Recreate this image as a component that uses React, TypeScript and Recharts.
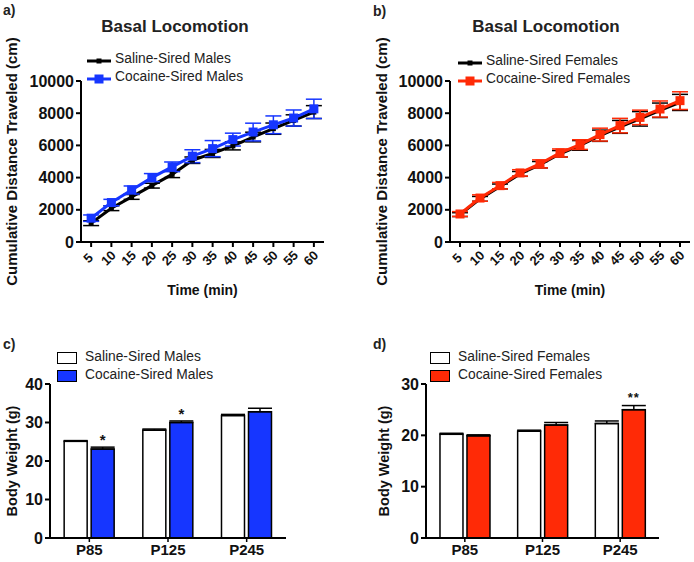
import React from 'react';
import { LineChart, Line, XAxis, YAxis, ErrorBar, BarChart, Bar, LabelList, Label } from 'recharts';

const FONT = '"Liberation Sans", Arial, Helvetica, sans-serif';
const BLUE = '#1636ff';
const RED = '#ff2a06';

// ---- Panel a/b: cumulative distance ----
const timePoints = [5, 10, 15, 20, 25, 30, 35, 40, 45, 50, 55, 60];
const timeTicks = [5, 10, 15, 20, 25, 30, 35, 40, 45, 50, 55, 60];
const distTicks = [0, 2000, 4000, 6000, 8000, 10000];

const salineMalesDist = [1170, 2100, 2800, 3500, 4200, 5080, 5500, 5970, 6520, 7040, 7550, 8070];
const salineMalesDistErr = [150, 150, 150, 150, 200, 200, 250, 250, 300, 350, 350, 400];
const cocaineMalesDist = [1480, 2450, 3230, 4000, 4670, 5330, 5800, 6360, 6830, 7280, 7700, 8270];
const cocaineMalesDistErr = [200, 200, 250, 250, 300, 400, 500, 400, 550, 550, 500, 600];

const salineFemalesDist = [1700, 2680, 3450, 4230, 4800, 5480, 6000, 6600, 7150, 7650, 8180, 8670];
const salineFemalesDistErr = [120, 150, 150, 150, 200, 200, 300, 350, 400, 450, 450, 500];
const cocaineFemalesDist = [1740, 2730, 3500, 4290, 4850, 5530, 6050, 6670, 7230, 7740, 8260, 8780];
const cocaineFemalesDistErr = [150, 200, 200, 200, 250, 250, 300, 400, 450, 450, 500, 550];

// ---- Panel c/d: body weight ----
const ages = ['P85', 'P125', 'P245'];
const maleWeightTicks = [0, 10, 20, 30, 40];
const femaleWeightTicks = [0, 10, 20, 30];

const salineMalesWeight = [25.1, 28.0, 31.8];
const salineMalesWeightErr = [0.2, 0.3, 0.3];
const cocaineMalesWeight = [23.1, 30.0, 32.8];
const cocaineMalesWeightErr = [0.5, 0.4, 0.9];
const malesSig = ['*', '*', ''];

const salineFemalesWeight = [20.2, 20.8, 22.3];
const salineFemalesWeightErr = [0.2, 0.2, 0.5];
const cocaineFemalesWeight = [19.9, 22.0, 25.0];
const cocaineFemalesWeightErr = [0.2, 0.5, 0.8];
const femalesSig = ['', '', '**'];

const buildDist = (s: number[], se: number[], c: number[], ce: number[]) =>
  timePoints.map((t, i) => ({ t, saline: s[i], salineErr: se[i], cocaine: c[i], cocaineErr: ce[i] }));

const buildWeight = (s: number[], se: number[], c: number[], ce: number[], sig: string[]) =>
  ages.map((a, i) => ({ age: a, saline: s[i], salineErr: [0, se[i]], cocaine: c[i], cocaineErr: [0, ce[i]], sig: sig[i], cErr: ce[i] }));

const malesDistData = buildDist(salineMalesDist, salineMalesDistErr, cocaineMalesDist, cocaineMalesDistErr);
const femalesDistData = buildDist(salineFemalesDist, salineFemalesDistErr, cocaineFemalesDist, cocaineFemalesDistErr);
const malesWeightData = buildWeight(salineMalesWeight, salineMalesWeightErr, cocaineMalesWeight, cocaineMalesWeightErr, malesSig);
const femalesWeightData = buildWeight(salineFemalesWeight, salineFemalesWeightErr, cocaineFemalesWeight, cocaineFemalesWeightErr, femalesSig);

const axisLine = { stroke: '#000', strokeWidth: 2 };
const tickLine = { stroke: '#000', strokeWidth: 2 };

const RotTick = (props: any) => {
  const { x, y, payload } = props;
  return (
    <g transform={`translate(${x - 3},${y + 9})`}>
      <text x={0} y={0} textAnchor="middle" dominantBaseline="central" transform="rotate(-45)"
        fontFamily={FONT} fontWeight="bold" fontSize={13} fill="#111">{payload.value}</text>
    </g>
  );
};

const YLabel = (text: string, dx: number, fs: number) => (props: any) => {
  const vb = props.viewBox;
  const cx = vb.x + dx;
  const cy = vb.y + vb.height / 2;
  return (
    <text x={cx} y={cy} transform={`rotate(-90 ${cx} ${cy})`} textAnchor="middle" dominantBaseline="central"
      fontFamily={FONT} fontWeight="bold" fontSize={fs} fill="#111">{text}</text>
  );
};

const XLabel = (text: string, dy: number) => (props: any) => {
  const vb = props.viewBox;
  return (
    <text x={vb.x + vb.width / 2} y={vb.y + dy} textAnchor="middle" dominantBaseline="central"
      fontFamily={FONT} fontWeight="bold" fontSize={14} fill="#111">{text}</text>
  );
};

const squareDot = (color: string, size: number) => (props: any) => {
  const { cx, cy, index } = props;
  if (cx == null || cy == null) return <g key={index} />;
  return <rect key={index} x={cx - size / 2} y={cy - size / 2} width={size} height={size} fill={color} />;
};

const txt = (extra: any = {}) => ({ fontFamily: FONT, color: '#222', position: 'absolute' as const, whiteSpace: 'nowrap' as const, ...extra });

function LinePanel(props: { left: number; data: any[]; color: string; yAxisW: number; width: number; right: number; labelDx: number; }) {
  const { left, data, color, yAxisW, width, right, labelDx } = props;
  return (
    <div style={{ position: 'absolute', left, top: 0 }}>
      <LineChart width={width} height={300} data={data} margin={{ top: 81, right, bottom: 18, left: 0 }}>
        <XAxis dataKey="t" type="number" domain={[2.5, 62.5]} ticks={timeTicks} interval={0}
          axisLine={axisLine} tickLine={tickLine} tickSize={5} height={40} tick={<RotTick />}>
          <Label content={XLabel('Time (min)', 48)} />
        </XAxis>
        <YAxis type="number" domain={[0, 10000]} ticks={distTicks} interval={0} width={yAxisW}
          axisLine={axisLine} tickLine={tickLine} tickSize={5}
          tick={{ fontFamily: FONT, fontWeight: 'bold', fontSize: 16, fill: '#111' }}>
          <Label content={YLabel('Cumulative Distance Traveled (cm)', labelDx, 15)} />
        </YAxis>
        <Line dataKey="saline" stroke="#000" strokeWidth={3} isAnimationActive={false}
          dot={squareDot('#000', 5)} activeDot={false}>
          <ErrorBar dataKey="salineErr" width={8} stroke="#000" strokeWidth={1.5} direction="y" />
        </Line>
        <Line dataKey="cocaine" stroke={color} strokeWidth={3} isAnimationActive={false}
          dot={squareDot(color, 9)} activeDot={false}>
          <ErrorBar dataKey="cocaineErr" width={8} stroke={color} strokeWidth={1.5} direction="y" />
        </Line>
      </LineChart>
    </div>
  );
}

const SigLabel = (props: any) => {
  const { x, y, width, height, value, index, data } = props;
  if (!value) return null;
  const row = data[index];
  const pxPerUnit = height / row.cocaine;
  const errPx = row.cErr * pxPerUnit;
  const dbl = value.length > 1;
  return (
    <text x={x + width / 2} y={y - errPx - (dbl ? 4 : 2)} textAnchor="middle" fontFamily={FONT} fontWeight="bold"
      fontSize={dbl ? 13 : 15} fill="#111" letterSpacing={dbl ? 1 : 0}>{value}</text>
  );
};

function BarPanel(props: { left: number; data: any[]; color: string; yAxisW: number; right: number; ticks: number[]; max: number; labelDx: number; }) {
  const { left, data, color, yAxisW, right, ticks, max, labelDx } = props;
  return (
    <div style={{ position: 'absolute', left, top: 290 }}>
      <BarChart width={347} height={272} data={data} margin={{ top: 94, right, bottom: 0, left: 0 }}
        barCategoryGap="18%" barGap={4}>
        <XAxis dataKey="age" type="category" axisLine={axisLine} tickLine={{ stroke: '#000', strokeWidth: 1.5 }} tickSize={4} height={24}
          tick={{ fontFamily: FONT, fontWeight: 'bold', fontSize: 15, fill: '#111' }} interval={0} />
        <YAxis type="number" domain={[0, max]} ticks={ticks} interval={0} width={yAxisW}
          axisLine={axisLine} tickLine={tickLine} tickSize={5}
          tick={{ fontFamily: FONT, fontWeight: 'bold', fontSize: 16, fill: '#111' }}>
          <Label content={YLabel('Body Weight (g)', labelDx, 14.5)} />
        </YAxis>
        <Bar dataKey="saline" fill="#fff" stroke="#000" strokeWidth={1.5} isAnimationActive={false}>
          <ErrorBar dataKey="salineErr" width={12} stroke="#000" strokeWidth={1.5} direction="y" />
        </Bar>
        <Bar dataKey="cocaine" fill={color} stroke="#000" strokeWidth={1.5} isAnimationActive={false}>
          <ErrorBar dataKey="cocaineErr" width={12} stroke="#000" strokeWidth={1.5} direction="y" />
          <LabelList dataKey="sig" content={(p: any) => <SigLabel {...p} data={data} />} />
        </Bar>
      </BarChart>
    </div>
  );
}

const LineLegendIcon = ({ color, size }: { color: string; size: number }) => (
  <svg width={26} height={10} style={{ position: 'absolute', left: 0, top: 0 }}>
    <line x1={1} y1={5} x2={25} y2={5} stroke={color} strokeWidth={3} />
    <rect x={13 - size / 2} y={5 - size / 2} width={size} height={size} fill={color} />
  </svg>
);

function LineLegend({ left, top, color, s, c }: { left: number; top: number; color: string; s: string; c: string }) {
  return (
    <div style={{ position: 'absolute', left, top }}>
      <div style={{ position: 'absolute', left: 0, top: 0, width: 200, height: 18 }}>
        <div style={{ position: 'absolute', left: 0, top: 4 }}><LineLegendIcon color="#000" size={5} /></div>
        <div style={txt({ left: 29, top: -1, fontSize: 13.8 })}>{s}</div>
      </div>
      <div style={{ position: 'absolute', left: 0, top: 18, width: 200, height: 18 }}>
        <div style={{ position: 'absolute', left: 0, top: 4 }}><LineLegendIcon color={color} size={9} /></div>
        <div style={txt({ left: 29, top: -1, fontSize: 13.8 })}>{c}</div>
      </div>
    </div>
  );
}

function BarLegend({ left, top, color, s, c }: { left: number; top: number; color: string; s: string; c: string }) {
  const box = (fill: string) => ({ position: 'absolute' as const, left: 0, width: 18, height: 10, background: fill, border: '1px solid #000' });
  return (
    <div style={{ position: 'absolute', left, top }}>
      <div style={{ ...box('#fff'), top: 2 }} />
      <div style={txt({ left: 28, top: -1, fontSize: 13.8 })}>{s}</div>
      <div style={{ ...box(color), top: 20 }} />
      <div style={txt({ left: 28, top: 17, fontSize: 13.8 })}>{c}</div>
    </div>
  );
}

export default function App() {
  return (
    <div style={{ position: 'absolute', left: 0, top: 0, width: 694, height: 562, background: '#fff', fontFamily: FONT, overflow: 'hidden' }}>
      <div style={txt({ left: 3, top: 2, fontSize: 14, fontWeight: 'bold' })}>a)</div>
      <div style={txt({ left: 373, top: 3, fontSize: 14, fontWeight: 'bold' })}>b)</div>
      <div style={txt({ left: 3, top: 336, fontSize: 14, fontWeight: 'bold' })}>c)</div>
      <div style={txt({ left: 373, top: 336, fontSize: 14, fontWeight: 'bold' })}>d)</div>
      <div style={txt({ left: 95, top: 17, fontSize: 17, fontWeight: 'bold', width: 160, textAlign: 'center' })}>Basal Locomotion</div>
      <div style={txt({ left: 466, top: 17, fontSize: 17, fontWeight: 'bold', width: 160, textAlign: 'center' })}>Basal Locomotion</div>

      <LinePanel left={0} data={malesDistData} color={BLUE} yAxisW={81} width={340} right={16} labelDx={11} />
      <LinePanel left={347} data={femalesDistData} color={RED} yAxisW={103} width={347} right={4} labelDx={34} />

      <LineLegend left={86} top={52} color={BLUE} s="Saline-Sired Males" c="Cocaine-Sired Males" />
      <LineLegend left={457} top={54} color={RED} s="Saline-Sired Females" c="Cocaine-Sired Females" />

      <BarPanel left={0} data={malesWeightData} color={BLUE} yAxisW={50} right={61} ticks={maleWeightTicks} max={40} labelDx={12} />
      <BarPanel left={347} data={femalesWeightData} color={RED} yAxisW={79} right={35} ticks={femaleWeightTicks} max={30} labelDx={37} />

      <BarLegend left={57} top={350} color={BLUE} s="Saline-Sired Males" c="Cocaine-Sired Males" />
      <BarLegend left={430} top={350} color={RED} s="Saline-Sired Females" c="Cocaine-Sired Females" />
    </div>
  );
}
